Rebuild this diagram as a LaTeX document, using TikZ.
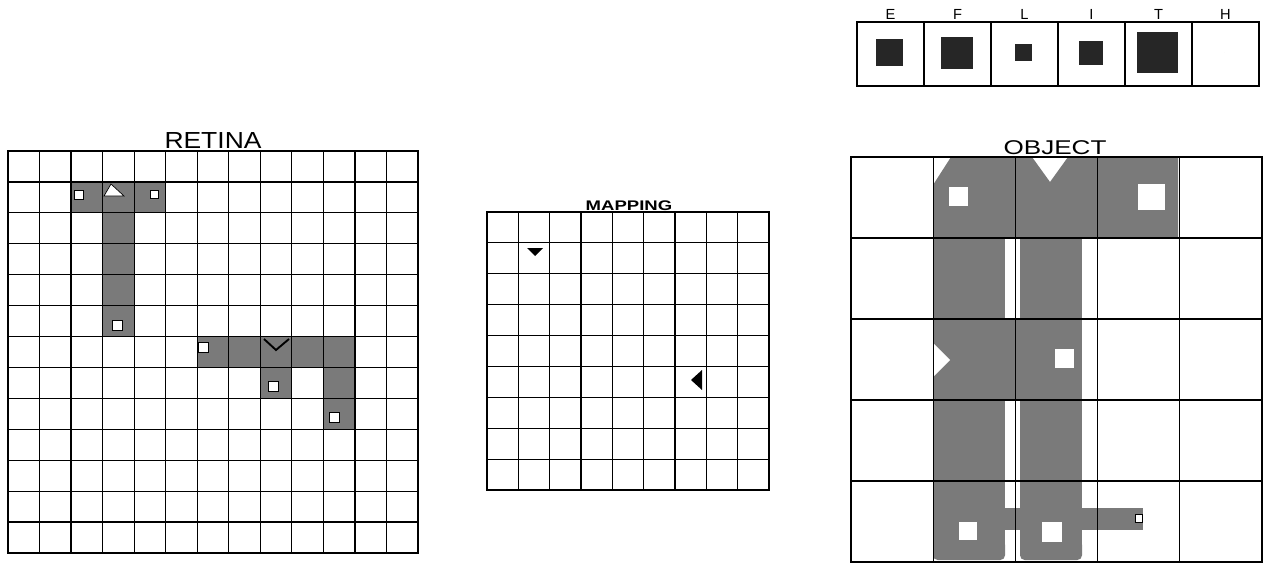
\documentclass[tikz,border=0pt]{standalone}
\usepackage{fontspec}
\setmainfont{Liberation Sans}
\tikzset{
	gridline/.style={line width=1pt},
	stipple/.style={fill=black!52},
	holebox/.style={fill=white, draw=black, line width=0.6pt},
	hole/.style={fill=white},
	title/.style={anchor=base, inner sep=0pt},
}
\begin{document}
\begin{tikzpicture}[x=0.03cm, y=-0.03cm]
		\useasboundingbox (0,0) rectangle (1263,563);
		% letter boxes
		\foreach \l/\s [count=\i from 0] in {E/27,F/32,L/17,I/24,T/41,H/0} {
			\draw[gridline] ({857+67*\i},22) rectangle ++(67,64);
			\fill[black!85] ({889.5+67*\i-\s/2},{53-\s/2}) rectangle ++(\s,\s);
			\node[title, font=\fontsize{12.5}{13}\selectfont] (lbl\l) at ({890.5+67*\i},19.5) {\l};
		}
		% retina
		\node[title, font=\fontsize{19.8}{20}\selectfont] (retinatitle) at (213,148) {\scalebox{1.14}[1]{RETINA}};
		\fill[stipple] (71.1,181.9) rectangle (165.7,212.8);
		\fill[stipple] (102.6,212.8) rectangle (134.2,336.5);
		\fill[stipple] (197.2,336.5) rectangle (354.9,367.4);
		\fill[stipple] (260.3,367.4) rectangle (291.9,398.4);
		\fill[stipple] (323.4,367.4) rectangle (354.9,429.3);
		\draw[holebox] (104,196) -- (111,184) -- (124,196) -- cycle;
		\draw[line width=1.6pt] (264,339) -- (276,350) -- (289,339);
		\draw[holebox] (74,190) rectangle (83,199);
		\draw[holebox] (150,190) rectangle (158,198);
		\draw[holebox] (112,320) rectangle (122,330);
		\draw[holebox] (198,342) rectangle (208,352);
		\draw[holebox] (268,381) rectangle (278,391);
		\draw[holebox] (329,412) rectangle (339,422);
		\foreach \i in {0,...,13} {
			\draw[gridline] ({8+31.54*\i},151) -- ({8+31.54*\i},553);
			\draw[gridline] (8,{151+30.92*\i}) -- (418,{151+30.92*\i});
		}
		\draw[gridline] (8,151) rectangle (418,553);
		% mapping
		\node[title, font=\bfseries\fontsize{11.9}{12}\selectfont] (mappingtitle) at (629,210) {\scalebox{1.33}[1]{MAPPING}};
		\foreach \i in {0,...,9} {
			\draw[gridline] ({487+31.33*\i},212) -- ({487+31.33*\i},490);
			\draw[gridline] (487,{212+30.89*\i}) -- (769,{212+30.89*\i});
		}
		\draw[gridline] (487,212) rectangle (769,490);
		\fill (527,248) -- (543,248) -- (535,256) -- cycle;
		\fill (702,370) -- (702,390) -- (691,380) -- cycle;
		% object
		\node[title, font=\fontsize{17}{18}\selectfont] (objecttitle) at (1055,154) {\scalebox{1.31}[1]{OBJECT}};
		\fill[stipple] (933,185) -- (951,157) -- (1032,157) -- (1050,182) -- (1068,157) -- (1178,157) -- (1178,238) -- (933,238) -- cycle;
		\fill[stipple] (933,238) rectangle (1005,548);
		\fill[stipple] (1020,238) rectangle (1082,548);
		\fill[stipple, rounded corners=4pt] (933,540) rectangle (1005,560);
		\fill[stipple, rounded corners=4pt] (1020,540) rectangle (1082,560);
		\fill[stipple] (933,319) rectangle (1082,400);
		\fill[stipple] (1005,508) rectangle (1143,530);
		\fill[hole] (933,343) -- (950,360) -- (933,377) -- cycle;
		\fill[hole] (949,187) rectangle (968,206);
		\fill[hole] (1138,184) rectangle (1165,210);
		\fill[hole] (1055,349) rectangle (1074,368);
		\fill[hole] (959,522) rectangle (977,540);
		\fill[hole] (1042,522) rectangle (1062,542);
		\draw[holebox] (1135,514) rectangle (1142,522);
		\foreach \i in {0,...,5} {
			\draw[gridline] ({851+82.2*\i},157) -- ({851+82.2*\i},562);
			\draw[gridline] (851,{157+81*\i}) -- (1262,{157+81*\i});
		}
		\draw[gridline] (851,157) rectangle (1262,562);
	\end{tikzpicture}
\end{document}
